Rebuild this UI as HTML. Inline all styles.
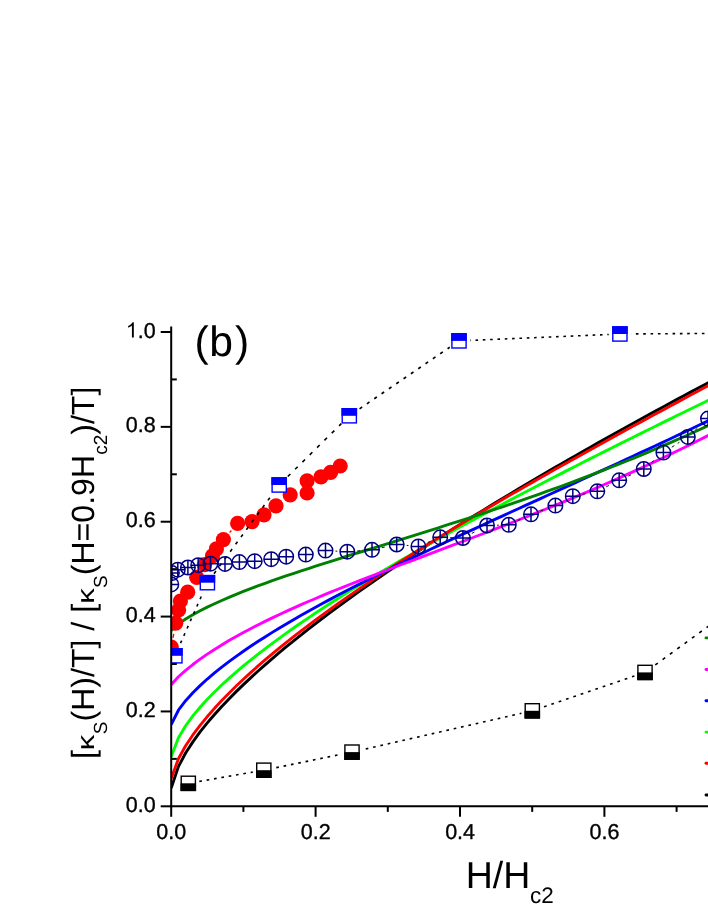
<!DOCTYPE html>
<html><head><meta charset="utf-8"><title>chart</title>
<style>html,body{margin:0;padding:0;background:#fff}body{width:708px;height:917px;position:relative;overflow:hidden;font-family:"Liberation Sans",sans-serif}</style>
</head><body>
<svg width="708" height="917" viewBox="0 0 708 917" style="position:absolute;left:0;top:0;display:block;will-change:transform;text-rendering:geometricPrecision"><defs><clipPath id="cp"><rect x="171.2" y="320" width="600" height="486.29999999999995"/></clipPath></defs><rect width="708" height="917" fill="#fff"/><g clip-path="url(#cp)" fill="none" stroke-linejoin="round"><path d="M171.20 788.10 L178.42 766.58 L185.64 753.04 L192.86 741.85 L200.08 731.96 L207.30 722.90 L214.52 714.46 L221.74 706.50 L228.96 698.90 L236.18 691.62 L243.40 684.61 L250.62 677.82 L257.84 671.22 L265.06 664.80 L272.28 658.54 L279.50 652.42 L286.72 646.42 L293.94 640.54 L301.16 634.77 L308.38 629.10 L315.60 623.51 L322.82 618.01 L330.04 612.59 L337.26 607.25 L344.48 601.97 L351.70 596.76 L358.92 591.61 L366.14 586.52 L373.36 581.48 L380.58 576.50 L387.80 571.57 L395.02 566.68 L402.24 561.84 L409.46 557.04 L416.68 552.29 L423.90 547.58 L431.12 542.90 L438.34 538.26 L445.56 533.66 L452.78 529.09 L460.00 524.55 L467.22 520.05 L474.44 515.57 L481.66 511.13 L488.88 506.71 L496.10 502.32 L503.32 497.96 L510.54 493.63 L517.76 489.32 L524.98 485.03 L532.20 480.77 L539.42 476.53 L546.64 472.32 L553.86 468.12 L561.08 463.95 L568.30 459.79 L575.52 455.66 L582.74 451.55 L589.96 447.45 L597.18 443.38 L604.40 439.32 L611.62 435.28 L618.84 431.26 L626.06 427.25 L633.28 423.26 L640.50 419.29 L647.72 415.33 L654.94 411.39 L662.16 407.46 L669.38 403.55 L676.60 399.65 L683.82 395.77 L691.04 391.89 L698.26 388.04 L705.48 384.19 L712.70 380.36 L719.92 376.54 L727.14 372.74 L734.36 368.94 L741.58 365.16 L748.80 361.39" stroke="#000" stroke-width="2.9"/><path d="M171.20 756.70 L178.42 737.67 L185.64 725.74 L192.86 715.91 L200.08 707.24 L207.30 699.33 L214.52 691.96 L221.74 685.02 L228.96 678.41 L236.18 672.08 L243.40 665.98 L250.62 660.09 L257.84 654.37 L265.06 648.80 L272.28 643.37 L279.50 638.07 L286.72 632.88 L293.94 627.79 L301.16 622.79 L308.38 617.88 L315.60 613.05 L322.82 608.28 L330.04 603.59 L337.26 598.96 L344.48 594.39 L351.70 589.88 L358.92 585.41 L366.14 581.00 L373.36 576.63 L380.58 572.30 L387.80 568.02 L395.02 563.78 L402.24 559.57 L409.46 555.40 L416.68 551.26 L423.90 547.15 L431.12 543.07 L438.34 539.02 L445.56 535.00 L452.78 531.01 L460.00 527.04 L467.22 523.10 L474.44 519.17 L481.66 515.27 L488.88 511.40 L496.10 507.54 L503.32 503.70 L510.54 499.88 L517.76 496.08 L524.98 492.29 L532.20 488.52 L539.42 484.77 L546.64 481.03 L553.86 477.31 L561.08 473.60 L568.30 469.91 L575.52 466.23 L582.74 462.56 L589.96 458.90 L597.18 455.26 L604.40 451.62 L611.62 448.00 L618.84 444.39 L626.06 440.78 L633.28 437.19 L640.50 433.61 L647.72 430.03 L654.94 426.46 L662.16 422.91 L669.38 419.36 L676.60 415.81 L683.82 412.28 L691.04 408.75 L698.26 405.23 L705.48 401.71 L712.70 398.20 L719.92 394.70 L727.14 391.20 L734.36 387.71 L741.58 384.22 L748.80 380.74" stroke="#0f0" stroke-width="2.9"/><path d="M171.20 778.60 L178.42 758.67 L185.64 745.76 L192.86 734.98 L200.08 725.38 L207.30 716.58 L214.52 708.36 L221.74 700.59 L228.96 693.18 L236.18 686.08 L243.40 679.24 L250.62 672.62 L257.84 666.20 L265.06 659.96 L272.28 653.87 L279.50 647.93 L286.72 642.11 L293.94 636.41 L301.16 630.82 L308.38 625.33 L315.60 619.93 L322.82 614.62 L330.04 609.39 L337.26 604.23 L344.48 599.14 L351.70 594.12 L358.92 589.16 L366.14 584.26 L373.36 579.41 L380.58 574.62 L387.80 569.88 L395.02 565.18 L402.24 560.53 L409.46 555.92 L416.68 551.35 L423.90 546.81 L431.12 542.32 L438.34 537.86 L445.56 533.43 L452.78 529.03 L460.00 524.66 L467.22 520.33 L474.44 516.02 L481.66 511.73 L488.88 507.47 L496.10 503.23 L503.32 499.02 L510.54 494.83 L517.76 490.66 L524.98 486.51 L532.20 482.38 L539.42 478.26 L546.64 474.17 L553.86 470.09 L561.08 466.02 L568.30 461.97 L575.52 457.94 L582.74 453.91 L589.96 449.91 L597.18 445.91 L604.40 441.93 L611.62 437.95 L618.84 433.99 L626.06 430.04 L633.28 426.10 L640.50 422.16 L647.72 418.24 L654.94 414.32 L662.16 410.41 L669.38 406.51 L676.60 402.61 L683.82 398.73 L691.04 394.84 L698.26 390.97 L705.48 387.09 L712.70 383.23 L719.92 379.36 L727.14 375.50 L734.36 371.65 L741.58 367.80 L748.80 363.95" stroke="#f00" stroke-width="2.9"/><path d="M171.20 724.50 L178.42 710.23 L185.64 700.74 L192.86 692.75 L200.08 685.61 L207.30 679.05 L214.52 672.92 L221.74 667.13 L228.96 661.61 L236.18 656.32 L243.40 651.23 L250.62 646.31 L257.84 641.54 L265.06 636.91 L272.28 632.39 L279.50 627.98 L286.72 623.67 L293.94 619.44 L301.16 615.30 L308.38 611.23 L315.60 607.22 L322.82 603.28 L330.04 599.39 L337.26 595.56 L344.48 591.77 L351.70 588.03 L358.92 584.34 L366.14 580.68 L373.36 577.05 L380.58 573.46 L387.80 569.90 L395.02 566.37 L402.24 562.86 L409.46 559.38 L416.68 555.92 L423.90 552.48 L431.12 549.06 L438.34 545.65 L445.56 542.26 L452.78 538.89 L460.00 535.53 L467.22 532.18 L474.44 528.84 L481.66 525.51 L488.88 522.18 L496.10 518.87 L503.32 515.56 L510.54 512.25 L517.76 508.95 L524.98 505.65 L532.20 502.36 L539.42 499.06 L546.64 495.77 L553.86 492.48 L561.08 489.18 L568.30 485.88 L575.52 482.58 L582.74 479.28 L589.96 475.98 L597.18 472.67 L604.40 469.35 L611.62 466.03 L618.84 462.70 L626.06 459.37 L633.28 456.03 L640.50 452.68 L647.72 449.32 L654.94 445.96 L662.16 442.58 L669.38 439.20 L676.60 435.80 L683.82 432.40 L691.04 428.98 L698.26 425.56 L705.48 422.12 L712.70 418.66 L719.92 415.20 L727.14 411.72 L734.36 408.23 L741.58 404.73 L748.80 401.21" stroke="#00f" stroke-width="2.9"/><path d="M171.20 684.70 L178.42 676.78 L185.64 670.33 L192.86 664.53 L200.08 659.17 L207.30 654.16 L214.52 649.42 L221.74 644.92 L228.96 640.62 L236.18 636.49 L243.40 632.52 L250.62 628.69 L257.84 624.97 L265.06 621.37 L272.28 617.87 L279.50 614.45 L286.72 611.12 L293.94 607.86 L301.16 604.67 L308.38 601.54 L315.60 598.46 L322.82 595.44 L330.04 592.45 L337.26 589.51 L344.48 586.61 L351.70 583.74 L358.92 580.89 L366.14 578.07 L373.36 575.28 L380.58 572.50 L387.80 569.74 L395.02 566.99 L402.24 564.26 L409.46 561.53 L416.68 558.81 L423.90 556.09 L431.12 553.37 L438.34 550.66 L445.56 547.94 L452.78 545.22 L460.00 542.49 L467.22 539.76 L474.44 537.01 L481.66 534.26 L488.88 531.49 L496.10 528.71 L503.32 525.91 L510.54 523.10 L517.76 520.27 L524.98 517.42 L532.20 514.55 L539.42 511.66 L546.64 508.75 L553.86 505.81 L561.08 502.85 L568.30 499.86 L575.52 496.84 L582.74 493.80 L589.96 490.72 L597.18 487.62 L604.40 484.48 L611.62 481.32 L618.84 478.12 L626.06 474.89 L633.28 471.62 L640.50 468.32 L647.72 464.98 L654.94 461.60 L662.16 458.19 L669.38 454.73 L676.60 451.24 L683.82 447.71 L691.04 444.14 L698.26 440.53 L705.48 436.87 L712.70 433.17 L719.92 429.43 L727.14 425.65 L734.36 421.82 L741.58 417.95 L748.80 414.02" stroke="#f0f" stroke-width="2.9"/><path d="M171.20 630.50 L178.42 623.91 L185.64 618.99 L192.86 614.69 L200.08 610.77 L207.30 607.13 L214.52 603.71 L221.74 600.45 L228.96 597.34 L236.18 594.35 L243.40 591.47 L250.62 588.68 L257.84 585.97 L265.06 583.32 L272.28 580.74 L279.50 578.21 L286.72 575.73 L293.94 573.29 L301.16 570.89 L308.38 568.51 L315.60 566.17 L322.82 563.85 L330.04 561.55 L337.26 559.27 L344.48 557.00 L351.70 554.74 L358.92 552.50 L366.14 550.25 L373.36 548.02 L380.58 545.78 L387.80 543.55 L395.02 541.31 L402.24 539.07 L409.46 536.83 L416.68 534.58 L423.90 532.32 L431.12 530.05 L438.34 527.77 L445.56 525.48 L452.78 523.17 L460.00 520.85 L467.22 518.52 L474.44 516.17 L481.66 513.79 L488.88 511.40 L496.10 508.99 L503.32 506.56 L510.54 504.11 L517.76 501.63 L524.98 499.13 L532.20 496.61 L539.42 494.06 L546.64 491.48 L553.86 488.88 L561.08 486.25 L568.30 483.59 L575.52 480.91 L582.74 478.19 L589.96 475.44 L597.18 472.67 L604.40 469.86 L611.62 467.02 L618.84 464.14 L626.06 461.23 L633.28 458.29 L640.50 455.32 L647.72 452.31 L654.94 449.26 L662.16 446.18 L669.38 443.06 L676.60 439.91 L683.82 436.72 L691.04 433.49 L698.26 430.22 L705.48 426.92 L712.70 423.57 L719.92 420.19 L727.14 416.76 L734.36 413.30 L741.58 409.79 L748.80 406.25" stroke="#008000" stroke-width="2.9"/></g><g clip-path="url(#cp)"><line x1="173.02" y1="637.76" x2="173.98" y2="632.54" stroke="#f00" stroke-width="1.3" stroke-dasharray="4 3"/><line x1="229.66" y1="532.46" x2="231.34" y2="530.54" stroke="#f00" stroke-width="1.3" stroke-dasharray="4 3"/><circle cx="171.3" cy="647.1" r="7.6" fill="#f00"/><circle cx="175.7" cy="623.2" r="7.6" fill="#f00"/><circle cx="178.6" cy="610" r="7.6" fill="#f00"/><circle cx="180.4" cy="601" r="7.6" fill="#f00"/><circle cx="187.7" cy="592.2" r="7.6" fill="#f00"/><circle cx="196.7" cy="577.3" r="7.6" fill="#f00"/><circle cx="204.6" cy="564.7" r="7.6" fill="#f00"/><circle cx="212.5" cy="555.8" r="7.6" fill="#f00"/><circle cx="216.4" cy="548.9" r="7.6" fill="#f00"/><circle cx="223.4" cy="539.6" r="7.6" fill="#f00"/><circle cx="237.6" cy="523.4" r="7.6" fill="#f00"/><circle cx="252.1" cy="521.6" r="7.6" fill="#f00"/><circle cx="264" cy="514.8" r="7.6" fill="#f00"/><circle cx="276" cy="505.8" r="7.6" fill="#f00"/><circle cx="290.2" cy="494.8" r="7.6" fill="#f00"/><circle cx="307.1" cy="493" r="7.6" fill="#f00"/><circle cx="307.1" cy="480.8" r="7.6" fill="#f00"/><circle cx="321" cy="476.8" r="7.6" fill="#f00"/><circle cx="330.6" cy="472.4" r="7.6" fill="#f00"/><circle cx="340.2" cy="466" r="7.6" fill="#f00"/><line x1="199.34" y1="781.39" x2="252.76" y2="772.11" stroke="#000" stroke-width="1.6" stroke-dasharray="2.64 4.80" stroke-dashoffset="-0.00"/><line x1="274.77" y1="767.95" x2="341.03" y2="754.35" stroke="#000" stroke-width="1.6" stroke-dasharray="2.65 4.83" stroke-dashoffset="-1.53"/><line x1="362.92" y1="749.60" x2="521.38" y2="713.30" stroke="#000" stroke-width="1.6" stroke-dasharray="2.67 4.85" stroke-dashoffset="-2.87"/><line x1="542.90" y1="707.19" x2="634.40" y2="676.01" stroke="#000" stroke-width="1.6" stroke-dasharray="2.75 5.00" stroke-dashoffset="-1.16"/><line x1="654.05" y1="665.80" x2="750.95" y2="595.20" stroke="#000" stroke-width="1.6" stroke-dasharray="3.22 5.85" stroke-dashoffset="-1.48"/><line x1="179.45" y1="645.57" x2="202.85" y2="592.93" stroke="#000" stroke-width="1.6" stroke-dasharray="2.85 5.18" stroke-dashoffset="-2.63"/><line x1="214.03" y1="573.68" x2="272.57" y2="494.02" stroke="#000" stroke-width="1.6" stroke-dasharray="3.23 5.87" stroke-dashoffset="-0.00"/><line x1="287.17" y1="477.13" x2="341.33" y2="423.67" stroke="#000" stroke-width="1.6" stroke-dasharray="3.65 6.65" stroke-dashoffset="-0.84"/><line x1="358.55" y1="409.48" x2="449.75" y2="347.22" stroke="#000" stroke-width="1.6" stroke-dasharray="3.15 5.73" stroke-dashoffset="-1.21"/><line x1="470.19" y1="340.42" x2="608.71" y2="334.48" stroke="#000" stroke-width="1.6" stroke-dasharray="2.60 4.73" stroke-dashoffset="-5.30"/><line x1="631.10" y1="333.93" x2="768.80" y2="333.07" stroke="#000" stroke-width="1.6" stroke-dasharray="2.60 4.73" stroke-dashoffset="-4.80"/><line x1="335.49" y1="551.10" x2="337.31" y2="551.20" stroke="#111" stroke-width="1.0" stroke-dasharray="3 4"/><line x1="357.27" y1="550.93" x2="362.03" y2="550.57" stroke="#111" stroke-width="1.0" stroke-dasharray="3 4"/><line x1="381.78" y1="547.70" x2="386.92" y2="546.60" stroke="#111" stroke-width="1.0" stroke-dasharray="3 4"/><line x1="406.66" y1="545.37" x2="408.44" y2="545.53" stroke="#111" stroke-width="1.0" stroke-dasharray="3 4"/><line x1="427.63" y1="542.55" x2="430.97" y2="541.15" stroke="#111" stroke-width="1.0" stroke-dasharray="3 4"/><line x1="450.20" y1="537.61" x2="452.90" y2="537.69" stroke="#111" stroke-width="1.0" stroke-dasharray="3 4"/><line x1="471.78" y1="533.40" x2="478.12" y2="530.10" stroke="#111" stroke-width="1.0" stroke-dasharray="3 4"/><line x1="496.99" y1="525.18" x2="498.81" y2="525.12" stroke="#111" stroke-width="1.0" stroke-dasharray="3 4"/><line x1="517.84" y1="520.52" x2="521.96" y2="518.58" stroke="#111" stroke-width="1.0" stroke-dasharray="3 4"/><line x1="540.42" y1="510.94" x2="545.98" y2="508.96" stroke="#111" stroke-width="1.0" stroke-dasharray="3 4"/><line x1="582.61" y1="494.24" x2="587.49" y2="493.26" stroke="#111" stroke-width="1.0" stroke-dasharray="3 4"/><line x1="606.24" y1="486.81" x2="610.26" y2="484.79" stroke="#111" stroke-width="1.0" stroke-dasharray="3 4"/><line x1="628.29" y1="476.13" x2="634.71" y2="473.17" stroke="#111" stroke-width="1.0" stroke-dasharray="3 4"/><line x1="651.47" y1="462.58" x2="655.73" y2="459.02" stroke="#111" stroke-width="1.0" stroke-dasharray="3 4"/><line x1="671.81" y1="447.19" x2="679.39" y2="442.31" stroke="#111" stroke-width="1.0" stroke-dasharray="3 4"/><line x1="695.21" y1="430.19" x2="700.59" y2="425.31" stroke="#111" stroke-width="1.0" stroke-dasharray="3 4"/><g stroke="#000080" stroke-width="1.5" fill="none"><circle cx="171.3" cy="584.4" r="7.25"/><path d="M164.05 584.4H178.55M171.3 577.15V591.65"/></g><g stroke="#000080" stroke-width="1.5" fill="none"><circle cx="171.9" cy="573.1" r="7.25"/><path d="M164.65 573.1H179.15M171.9 565.85V580.35"/></g><g stroke="#000080" stroke-width="1.5" fill="none"><circle cx="177.8" cy="569.7" r="7.25"/><path d="M170.55 569.7H185.05M177.8 562.45V576.95"/></g><g stroke="#000080" stroke-width="1.5" fill="none"><circle cx="187.9" cy="567.5" r="7.25"/><path d="M180.65 567.5H195.15M187.9 560.25V574.75"/></g><g stroke="#000080" stroke-width="1.5" fill="none"><circle cx="198.2" cy="565.2" r="7.25"/><path d="M190.95 565.2H205.45M198.2 557.95V572.45"/></g><g stroke="#000080" stroke-width="1.5" fill="none"><circle cx="210.5" cy="563.7" r="7.25"/><path d="M203.25 563.7H217.75M210.5 556.45V570.95"/></g><g stroke="#000080" stroke-width="1.5" fill="none"><circle cx="225" cy="563.9" r="7.25"/><path d="M217.75 563.9H232.25M225 556.65V571.15"/></g><g stroke="#000080" stroke-width="1.5" fill="none"><circle cx="239.4" cy="562.1" r="7.25"/><path d="M232.15 562.1H246.65M239.4 554.85V569.35"/></g><g stroke="#000080" stroke-width="1.5" fill="none"><circle cx="254.7" cy="561.2" r="7.25"/><path d="M247.45 561.2H261.95M254.7 553.95V568.45"/></g><g stroke="#000080" stroke-width="1.5" fill="none"><circle cx="271.2" cy="559.2" r="7.25"/><path d="M263.95 559.2H278.45M271.2 551.95V566.45"/></g><g stroke="#000080" stroke-width="1.5" fill="none"><circle cx="286.2" cy="556.7" r="7.25"/><path d="M278.95 556.7H293.45M286.2 549.45V563.95"/></g><g stroke="#000080" stroke-width="1.5" fill="none"><circle cx="305.8" cy="554.6" r="7.25"/><path d="M298.55 554.6H313.05M305.8 547.35V561.85"/></g><g stroke="#000080" stroke-width="1.5" fill="none"><circle cx="325.5" cy="550.6" r="7.25"/><path d="M318.25 550.6H332.75M325.5 543.35V557.85"/></g><g stroke="#000080" stroke-width="1.5" fill="none"><circle cx="347.3" cy="551.7" r="7.25"/><path d="M340.05 551.7H354.55M347.3 544.45V558.95"/></g><g stroke="#000080" stroke-width="1.5" fill="none"><circle cx="372" cy="549.8" r="7.25"/><path d="M364.75 549.8H379.25M372 542.55V557.05"/></g><g stroke="#000080" stroke-width="1.5" fill="none"><circle cx="396.7" cy="544.5" r="7.25"/><path d="M389.45 544.5H403.95M396.7 537.25V551.75"/></g><g stroke="#000080" stroke-width="1.5" fill="none"><circle cx="418.4" cy="546.4" r="7.25"/><path d="M411.15 546.4H425.65M418.4 539.15V553.65"/></g><g stroke="#000080" stroke-width="1.5" fill="none"><circle cx="440.2" cy="537.3" r="7.25"/><path d="M432.95 537.3H447.45M440.2 530.05V544.55"/></g><g stroke="#000080" stroke-width="1.5" fill="none"><circle cx="462.9" cy="538" r="7.25"/><path d="M455.65 538H470.15M462.9 530.75V545.25"/></g><g stroke="#000080" stroke-width="1.5" fill="none"><circle cx="487" cy="525.5" r="7.25"/><path d="M479.75 525.5H494.25M487 518.25V532.75"/></g><g stroke="#000080" stroke-width="1.5" fill="none"><circle cx="508.8" cy="524.8" r="7.25"/><path d="M501.55 524.8H516.05M508.8 517.55V532.05"/></g><g stroke="#000080" stroke-width="1.5" fill="none"><circle cx="531" cy="514.3" r="7.25"/><path d="M523.75 514.3H538.25M531 507.04999999999995V521.55"/></g><g stroke="#000080" stroke-width="1.5" fill="none"><circle cx="555.4" cy="505.6" r="7.25"/><path d="M548.15 505.6H562.65M555.4 498.35V512.85"/></g><g stroke="#000080" stroke-width="1.5" fill="none"><circle cx="572.8" cy="496.2" r="7.25"/><path d="M565.55 496.2H580.05M572.8 488.95V503.45"/></g><g stroke="#000080" stroke-width="1.5" fill="none"><circle cx="597.3" cy="491.3" r="7.25"/><path d="M590.05 491.3H604.55M597.3 484.05V498.55"/></g><g stroke="#000080" stroke-width="1.5" fill="none"><circle cx="619.2" cy="480.3" r="7.25"/><path d="M611.95 480.3H626.45M619.2 473.05V487.55"/></g><g stroke="#000080" stroke-width="1.5" fill="none"><circle cx="643.8" cy="469" r="7.25"/><path d="M636.55 469H651.05M643.8 461.75V476.25"/></g><g stroke="#000080" stroke-width="1.5" fill="none"><circle cx="663.4" cy="452.6" r="7.25"/><path d="M656.15 452.6H670.65M663.4 445.35V459.85"/></g><g stroke="#000080" stroke-width="1.5" fill="none"><circle cx="687.8" cy="436.9" r="7.25"/><path d="M680.55 436.9H695.05M687.8 429.65V444.15"/></g><g stroke="#000080" stroke-width="1.5" fill="none"><circle cx="708" cy="418.6" r="7.25"/><path d="M700.75 418.6H715.25M708 411.35V425.85"/></g><rect x="181.20" y="776.20" width="14.20" height="14.20" fill="#fff" stroke="#000" stroke-width="1.4"/><rect x="180.50" y="783.30" width="15.60" height="7.80" fill="#000"/><rect x="256.70" y="763.10" width="14.20" height="14.20" fill="#fff" stroke="#000" stroke-width="1.4"/><rect x="256.00" y="770.20" width="15.60" height="7.80" fill="#000"/><rect x="344.90" y="745.00" width="14.20" height="14.20" fill="#fff" stroke="#000" stroke-width="1.4"/><rect x="344.20" y="752.10" width="15.60" height="7.80" fill="#000"/><rect x="525.20" y="703.70" width="14.20" height="14.20" fill="#fff" stroke="#000" stroke-width="1.4"/><rect x="524.50" y="710.80" width="15.60" height="7.80" fill="#000"/><rect x="637.90" y="665.30" width="14.20" height="14.20" fill="#fff" stroke="#000" stroke-width="1.4"/><rect x="637.20" y="672.40" width="15.60" height="7.80" fill="#000"/><rect x="752.90" y="581.50" width="14.20" height="14.20" fill="#fff" stroke="#000" stroke-width="1.4"/><rect x="752.20" y="588.60" width="15.60" height="7.80" fill="#000"/><rect x="167.80" y="648.70" width="14.20" height="14.20" fill="#fff" stroke="#00f" stroke-width="1.4"/><rect x="167.10" y="648.00" width="15.60" height="7.80" fill="#00f"/><rect x="200.30" y="575.60" width="14.20" height="14.20" fill="#fff" stroke="#00f" stroke-width="1.4"/><rect x="199.60" y="574.90" width="15.60" height="7.80" fill="#00f"/><rect x="272.10" y="477.90" width="14.20" height="14.20" fill="#fff" stroke="#00f" stroke-width="1.4"/><rect x="271.40" y="477.20" width="15.60" height="7.80" fill="#00f"/><rect x="342.20" y="408.70" width="14.20" height="14.20" fill="#fff" stroke="#00f" stroke-width="1.4"/><rect x="341.50" y="408.00" width="15.60" height="7.80" fill="#00f"/><rect x="451.90" y="333.80" width="14.20" height="14.20" fill="#fff" stroke="#00f" stroke-width="1.4"/><rect x="451.20" y="333.10" width="15.60" height="7.80" fill="#00f"/><rect x="612.80" y="326.90" width="14.20" height="14.20" fill="#fff" stroke="#00f" stroke-width="1.4"/><rect x="612.10" y="326.20" width="15.60" height="7.80" fill="#00f"/><rect x="772.90" y="325.90" width="14.20" height="14.20" fill="#fff" stroke="#00f" stroke-width="1.4"/><rect x="772.20" y="325.20" width="15.60" height="7.80" fill="#00f"/></g><line x1="706" y1="637.9" x2="720" y2="637.9" stroke="#008000" stroke-width="2.9" stroke-linecap="round"/><line x1="706" y1="669.5" x2="720" y2="669.5" stroke="#f0f" stroke-width="2.9" stroke-linecap="round"/><line x1="706" y1="700.7" x2="720" y2="700.7" stroke="#00f" stroke-width="2.9" stroke-linecap="round"/><line x1="706" y1="732.1" x2="720" y2="732.1" stroke="#0f0" stroke-width="2.9" stroke-linecap="round"/><line x1="706" y1="763.3" x2="720" y2="763.3" stroke="#f00" stroke-width="2.9" stroke-linecap="round"/><line x1="706" y1="795" x2="720" y2="795" stroke="#000" stroke-width="2.9" stroke-linecap="round"/><g stroke="#000" stroke-width="2.0" fill="none" stroke-linecap="butt"><line x1="171.2" y1="326.4" x2="171.2" y2="807.3"/><line x1="170.2" y1="806.3" x2="708" y2="806.3"/><line x1="160.7" y1="806.30" x2="171.2" y2="806.30"/><line x1="171.2" y1="758.87" x2="176.79999999999998" y2="758.87"/><line x1="160.7" y1="711.44" x2="171.2" y2="711.44"/><line x1="171.2" y1="664.01" x2="176.79999999999998" y2="664.01"/><line x1="160.7" y1="616.58" x2="171.2" y2="616.58"/><line x1="171.2" y1="569.15" x2="176.79999999999998" y2="569.15"/><line x1="160.7" y1="521.72" x2="171.2" y2="521.72"/><line x1="171.2" y1="474.29" x2="176.79999999999998" y2="474.29"/><line x1="160.7" y1="426.86" x2="171.2" y2="426.86"/><line x1="171.2" y1="379.43" x2="176.79999999999998" y2="379.43"/><line x1="160.7" y1="332.00" x2="171.2" y2="332.00"/><line x1="171.20" y1="806.3" x2="171.20" y2="816.8"/><line x1="243.40" y1="806.3" x2="243.40" y2="811.9"/><line x1="315.60" y1="806.3" x2="315.60" y2="816.8"/><line x1="387.80" y1="806.3" x2="387.80" y2="811.9"/><line x1="460.00" y1="806.3" x2="460.00" y2="816.8"/><line x1="532.20" y1="806.3" x2="532.20" y2="811.9"/><line x1="604.40" y1="806.3" x2="604.40" y2="816.8"/><line x1="676.60" y1="806.3" x2="676.60" y2="811.9"/></g><g font-family="Liberation Sans, sans-serif" font-size="21.5" fill="#000" stroke="#000" stroke-width="0.35" stroke-linejoin="round"><text x="155.7" y="811.90" text-anchor="end">0.0</text><text x="155.7" y="717.04" text-anchor="end">0.2</text><text x="155.7" y="622.18" text-anchor="end">0.4</text><text x="155.7" y="527.32" text-anchor="end">0.6</text><text x="155.7" y="432.46" text-anchor="end">0.8</text><text x="155.7" y="337.60" text-anchor="end">.0</text><path transform="translate(125.81,337.60) scale(0.010498,-0.010498)" d="M763 0H583V1147Q518 1085 412.5 1023T223 930V1104Q373 1174.5 485 1275T644 1472H763Z"/><text x="171.30" y="838.5" text-anchor="middle">0.0</text><text x="315.70" y="838.5" text-anchor="middle">0.2</text><text x="460.10" y="838.5" text-anchor="middle">0.4</text><text x="604.50" y="838.5" text-anchor="middle">0.6</text></g><text x="194.4" y="355.6" font-family="Liberation Sans, sans-serif" font-size="42.6" fill="#000">(</text><text x="209.3" y="355.6" font-family="Liberation Sans, sans-serif" font-size="42.6" fill="#000">b</text><text x="235.0" y="355.6" font-family="Liberation Sans, sans-serif" font-size="42.6" fill="#000">)</text><text x="465.7" y="888.4" font-family="Liberation Sans, sans-serif" font-size="37.5" fill="#000">H/H<tspan font-size="22.5" dx="-0.3" dy="14.8">c2</tspan></text><g transform="translate(94,759.1) rotate(-90)" font-family="Liberation Sans, sans-serif" fill="#000"><text x="0.00" y="0" font-size="32.1">[</text><text transform="translate(8.92,0) scale(0.97,0.76)" font-size="32.1">κ</text><text x="24.89" y="12.8" font-size="19">S</text><text x="37.56" y="0" font-size="32.1">(H)/T] / [</text><text transform="translate(155.24,0) scale(0.97,0.76)" font-size="32.1">κ</text><text x="171.21" y="12.8" font-size="19">S</text><text x="183.88" y="0" font-size="32.1">(H=0.9H</text><text x="304.30" y="12.8" font-size="19">c2</text><text x="324.37" y="0" font-size="32.1">)/T]</text></g></svg>
</body></html>
